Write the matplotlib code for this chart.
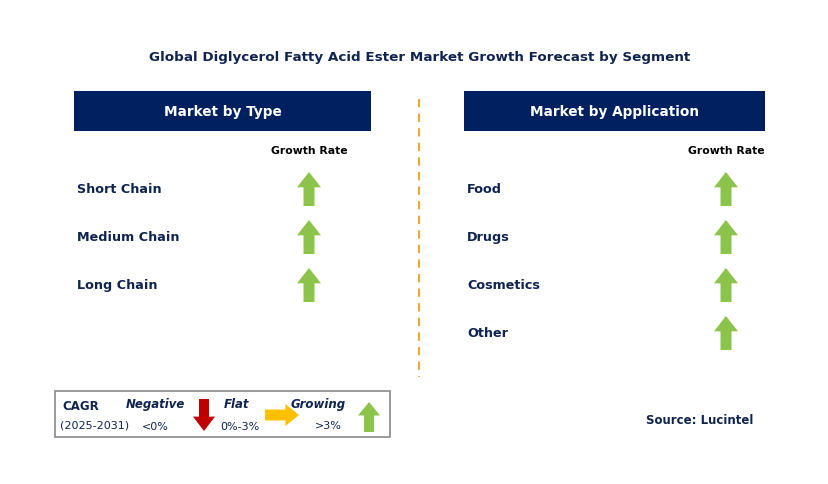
import matplotlib.pyplot as plt
from matplotlib.patches import Rectangle, Polygon

title = "Global Diglycerol Fatty Acid Ester Market Growth Forecast by Segment"
type_names = ["Short Chain", "Medium Chain", "Long Chain"]
type_trend = ["up", "up", "up"]
app_names = ["Food", "Drugs", "Cosmetics", "Other"]
app_trend = ["up", "up", "up", "up"]

NAVY = "#0f2350"
HEAD = "#002060"
GREEN = "#8cc34b"

fig = plt.figure(figsize=(8.29, 4.85), dpi=100)
ax = fig.add_axes([0, 0, 1, 1])
ax.set_xlim(0, 829)
ax.set_ylim(485, 0)
ax.axis("off")


def arrow(cx, cy, kind, h=34, w=24, sw=11):
    if kind == "up":
        top, bot = cy - h / 2, cy + h / 2
        hb = top + h * 0.45
        pts = [(cx, top), (cx + w / 2, hb), (cx + sw / 2, hb), (cx + sw / 2, bot),
               (cx - sw / 2, bot), (cx - sw / 2, hb), (cx - w / 2, hb)]
        col = GREEN
    elif kind == "down":
        top, bot = cy - h / 2, cy + h / 2
        hb = bot - h * 0.45
        pts = [(cx, bot), (cx + w / 2, hb), (cx + sw / 2, hb), (cx + sw / 2, top),
               (cx - sw / 2, top), (cx - sw / 2, hb), (cx - w / 2, hb)]
        col = "#c00000"
    else:
        l, r = cx - h / 2, cx + h / 2
        hb = r - h * 0.4
        pts = [(r, cy), (hb, cy - w / 2), (hb, cy - sw / 2), (l, cy - sw / 2),
               (l, cy + sw / 2), (hb, cy + sw / 2), (hb, cy + w / 2)]
        col = "#ffc000"
    ax.add_patch(Polygon(pts, closed=True, color=col, lw=0))


ax.text(420, 57, title, ha="center", va="center", fontsize=9.7, fontweight="bold", color=NAVY)

panels = [(74, 371, "Market by Type", type_names, type_trend, 309),
          (464, 765, "Market by Application", app_names, app_trend, 726)]
for x0, x1, head, names, trend, ax_x in panels:
    ax.add_patch(Rectangle((x0, 92), x1 - x0, 40, color=HEAD, lw=0))
    ax.text((x0 + x1) / 2, 112, head, ha="center", va="center", fontsize=9.8,
            fontweight="bold", color="white")
    ax.text(ax_x, 151, "Growth Rate", ha="center", va="center", fontsize=7.8,
            fontweight="bold", color="black")
    for i, (n, t) in enumerate(zip(names, trend)):
        y = 190 + 48 * i
        ax.text(x0 + 3, y, n, ha="left", va="center", fontsize=9.2, fontweight="bold", color=NAVY)
        arrow(ax_x, y, t)

ax.plot([419, 419], [100, 378], color="#f0a830", lw=1.5, ls=(0, (4, 3)))

# legend box
ax.add_patch(Rectangle((55, 392), 335, 46, fill=False, ec="#888888", lw=1.2))
ax.text(62, 407, "CAGR", fontsize=8.5, fontweight="bold", color=NAVY, va="center")
ax.text(60, 426, "(2025-2031)", fontsize=8, color=NAVY, va="center")
ax.text(155, 405, "Negative", fontsize=8.5, fontweight="bold", style="italic", color=NAVY, ha="center", va="center")
ax.text(155, 427, "<0%", fontsize=8, color=NAVY, ha="center", va="center")
arrow(204, 416, "down", h=32, w=22, sw=10)
ax.text(237, 405, "Flat", fontsize=8.5, fontweight="bold", style="italic", color=NAVY, ha="center", va="center")
ax.text(240, 427, "0%-3%", fontsize=8, color=NAVY, ha="center", va="center")
arrow(282, 416, "flat", h=34, w=22, sw=11)
ax.text(318, 405, "Growing", fontsize=8.5, fontweight="bold", style="italic", color=NAVY, ha="center", va="center")
ax.text(328, 426, ">3%", fontsize=8, color=NAVY, ha="center", va="center")
arrow(369, 418, "up", h=30, w=22, sw=10)

ax.text(700, 421, "Source: Lucintel", ha="center", va="center", fontsize=8.5, fontweight="bold", color=NAVY)

fig.savefig("out.png", dpi=100)
